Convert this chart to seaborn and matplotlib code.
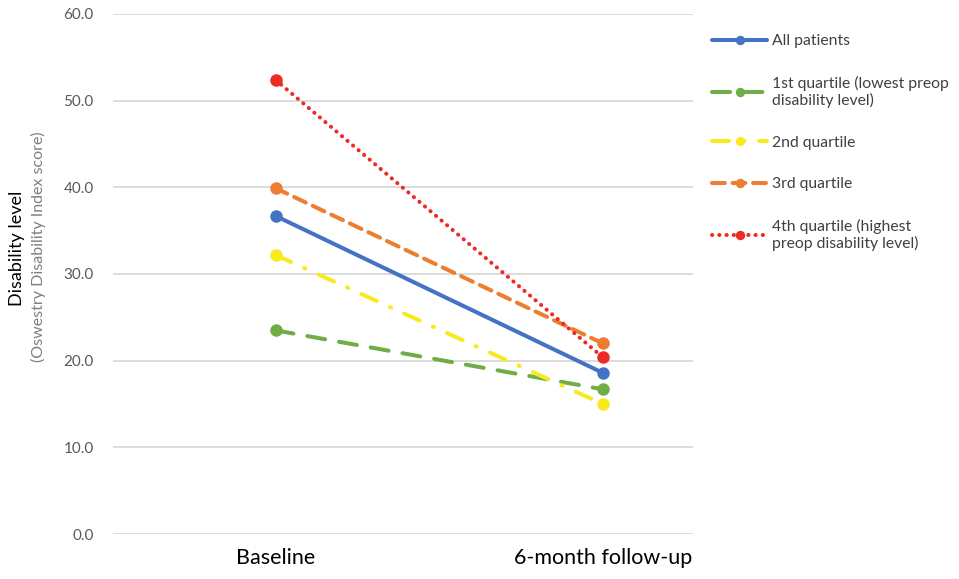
import pandas as pd
import matplotlib.pyplot as plt
import seaborn as sns

# data
timepoints = ['Baseline', '6-month follow-up']
series_names = [
    'All patients',
    '1st quartile (lowest preop\ndisability level)',
    '2nd quartile',
    '3rd quartile',
    '4th quartile (highest\npreop disability level)',
]
all_patients = [36.7, 18.6]
q1 = [23.5, 16.7]
q2 = [32.2, 15.0]
q3 = [39.9, 22.0]
q4 = [52.4, 20.4]
y_ticks = [0, 10, 20, 30, 40, 50, 60]

colors = ['#4472C4', '#70AD47', '#F7EA1E', '#ED7D31', '#EE2A24']
dash_styles = [
    None,
    (0, (4.5, 3.5)),
    (0, (4.2, 3.6, 0.3, 3.6)),
    (0, (3.2, 1.9)),
    (0, (0.05, 1.75)),
]

sns.set_style('white')
plt.rcParams['font.family'] = ['Lato', 'DejaVu Sans']

fig = plt.figure(figsize=(9.59, 5.79), dpi=100)
ax = fig.add_axes([113 / 959, 1 - 534 / 579, (693 - 113) / 959, (534 - 14) / 579])

values = [all_patients, q1, q2, q3, q4]
handles = []
for name, vals, col, ds in zip(series_names, values, colors, dash_styles):
    df = pd.DataFrame({'time': timepoints, 'score': vals})
    kw = dict(color=col, linewidth=2.9, marker='o', markersize=9,
              markeredgecolor=col, markeredgewidth=0, solid_capstyle='round',
              dash_capstyle='round')
    if ds is not None:
        kw['linestyle'] = ds
    sns.lineplot(data=df, x='time', y='score', ax=ax, sort=False, **kw)
    handles.append(ax.lines[-1])

ax.set_ylim(0, 60)
ax.set_xlim(-0.497, 1.276)
ax.set_yticks(y_ticks)
ax.set_yticklabels([f'{v:.1f}' for v in y_ticks])
ax.yaxis.grid(True, color='#D9D9D9', linewidth=1.3)
ax.xaxis.grid(False)
for s in ax.spines.values():
    s.set_visible(False)
ax.tick_params(axis='y', length=0, labelsize=11, labelcolor='#595959', pad=14)
ax.tick_params(axis='x', length=0, labelsize=15.5, labelcolor='#000000', pad=10)
ax.set_xlabel('')
ax.set_ylabel('')

# two-part y label
fig.text(17 / 959, 1 - 248 / 579, 'Disability level', rotation=90,
         ha='center', va='center', fontsize=13, color='black')
fig.text(38 / 959, 1 - 247 / 579, '(Oswestry Disability Index score)', rotation=90,
         ha='center', va='center', fontsize=11.5, color='#7F7F7F')

leg = fig.legend(handles, series_names, loc='upper left',
                 bbox_to_anchor=(698 / 959, 1 - 20 / 579), frameon=False,
                 fontsize=11.3, handlelength=3.5, labelspacing=1.75,
                 handletextpad=0.3, labelcolor='#404040', markerscale=0.75)

fig.savefig('out.png', dpi=100)
plt.close(fig)
